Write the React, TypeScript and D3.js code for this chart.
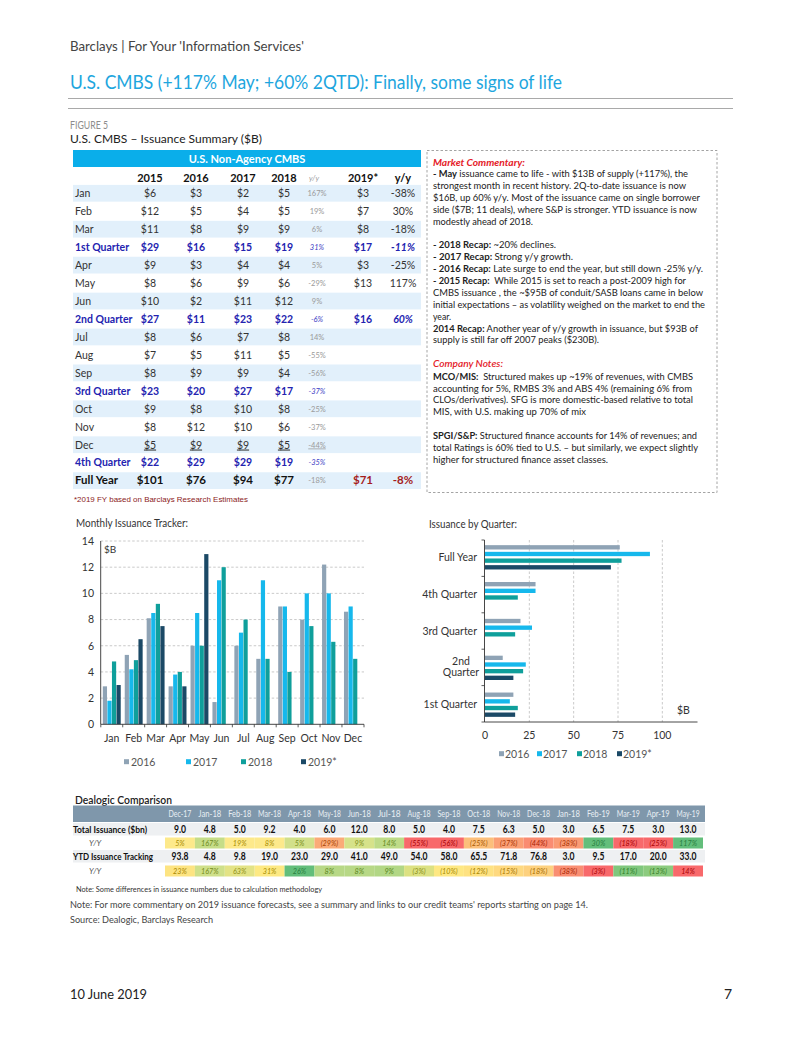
import React from "react";
import * as d3 from "d3";

const FONT = "Lato, 'Open Sans', 'DejaVu Sans', sans-serif";

// ---------------- Summary table data ----------------
const rowLabels = ["Jan", "Feb", "Mar", "1st Quarter", "Apr", "May", "Jun", "2nd Quarter", "Jul", "Aug", "Sep", "3rd Quarter", "Oct", "Nov", "Dec", "4th Quarter", "Full Year"];
const v2015 = [6, 12, 11, 29, 9, 8, 10, 27, 8, 7, 8, 23, 9, 8, 5, 22, 101];
const v2016 = [3, 5, 8, 16, 3, 6, 2, 11, 6, 5, 9, 20, 8, 12, 9, 29, 76];
const v2017 = [2, 4, 9, 15, 4, 9, 11, 23, 7, 11, 9, 27, 10, 10, 9, 29, 94];
const v2018 = [5, 5, 9, 19, 4, 6, 12, 22, 8, 5, 4, 17, 8, 6, 5, 19, 77];
const yoy2018 = ["167%", "19%", "6%", "31%", "5%", "-29%", "9%", "-6%", "14%", "-55%", "-56%", "-37%", "-25%", "-37%", "-44%", "-35%", "-18%"];
const v2019: (number | null)[] = [3, 7, 8, 17, 3, 13, null, 16, null, null, null, null, null, null, null, null, 71];
const yoy2019 = ["-38%", "30%", "-18%", "-11%", "-25%", "117%", "", "60%", "", "", "", "", "", "", "", "", "-8%"];
const tableHeaders = ["2015", "2016", "2017", "2018", "y/y", "2019*", "y/y"];

// ---------------- Monthly chart data ----------------
const months = ["Jan", "Feb", "Mar", "Apr", "May", "Jun", "Jul", "Aug", "Sep", "Oct", "Nov", "Dec"];
const seriesNames = ["2016", "2017", "2018", "2019*"];
const m2016 = [2.9, 5.3, 8.1, 2.9, 6.0, 1.7, 6.0, 5.0, 9.0, 8.0, 12.2, 8.6];
const m2017 = [1.8, 4.2, 8.5, 3.8, 8.5, 11.0, 7.0, 11.0, 9.0, 10.0, 10.0, 9.0];
const m2018 = [4.8, 4.9, 9.2, 4.0, 6.0, 12.0, 8.0, 5.0, 4.0, 7.5, 6.3, 5.0];
const m2019: (number | null)[] = [3.0, 6.5, 7.5, 2.9, 13.0, null, null, null, null, null, null, null];
const monthTicks = [0, 2, 4, 6, 8, 10, 12, 14];

// ---------------- Quarter chart data ----------------
const quarters = ["Full Year", "4th Quarter", "3rd Quarter", "2nd Quarter", "1st Quarter"];
const q2016 = [76, 28.5, 20, 10, 16];
const q2017 = [93, 28.5, 26.5, 23, 14];
const q2018 = [77, 18.5, 17, 21.5, 18.5];
const q2019: (number | null)[] = [71, null, null, 16, 17];
const quarterTicks = [0, 25, 50, 75, 100];

// ---------------- Dealogic data ----------------
const dealCols = ["Dec-17", "Jan-18", "Feb-18", "Mar-18", "Apr-18", "May-18", "Jun-18", "Jul-18", "Aug-18", "Sep-18", "Oct-18", "Nov-18", "Dec-18", "Jan-18", "Feb-19", "Mar-19", "Apr-19", "May-19"];
const totalIss = [9.0, 4.8, 5.0, 9.2, 4.0, 6.0, 12.0, 8.0, 5.0, 4.0, 7.5, 6.3, 5.0, 3.0, 6.5, 7.5, 3.0, 13.0];
const totalYoy = [5, 167, 19, 8, 5, -29, 9, 14, -55, -56, -25, -37, -44, -38, 30, -18, -25, 117];
const ytdIss = [93.8, 4.8, 9.8, 19.0, 23.0, 29.0, 41.0, 49.0, 54.0, 58.0, 65.5, 71.8, 76.8, 3.0, 9.5, 17.0, 20.0, 33.0];
const ytdYoy = [23, 167, 63, 31, 26, 8, 8, 9, -3, -10, -12, -15, -18, -38, -3, -11, -13, 14];

// heat-map fills (style)
const totalFill = ["#fde98b", "#c6dd88", "#fde98b", "#fde98b", "#d2e08a", "#fbab78", "#d6e28a", "#bedb87", "#f8696b", "#f8696b", "#fcbf7b", "#fb9f75", "#fa8c72", "#fa9a74", "#63be7b", "#f8696b", "#f8696b", "#63be7b"];
const ytdFill = ["#fde482", "#cfe08a", "#e3e386", "#fde983", "#63be7b", "#b7d886", "#b7d886", "#b2d785", "#dce182", "#fee883", "#fee282", "#fed980", "#fdd17f", "#f98e72", "#f8696b", "#7fc77d", "#8ccb7e", "#f8696b"];

// ---------------- Commentary text ----------------
type Line = { b?: string; t: string; kind?: "red" };
const commentary: Line[] = [
  { t: "Market Commentary:", kind: "red" },
  { b: "- May", t: " issuance came to life - with $13B of supply (+117%), the" },
  { t: "strongest month in recent history. 2Q-to-date issuance is now" },
  { t: "$16B, up 60% y/y. Most of the issuance came on single borrower" },
  { t: "side ($7B; 11 deals), where S&P is stronger. YTD issuance is now" },
  { t: "modestly ahead of 2018." },
  { b: "- 2018 Recap:", t: " ~20% declines." },
  { b: "- 2017 Recap:", t: " Strong y/y growth." },
  { b: "- 2016 Recap:", t: " Late surge to end the year, but still down -25% y/y." },
  { b: "- 2015 Recap:", t: "  While 2015 is set to reach a post-2009 high for" },
  { t: "CMBS issuance , the ~$95B of conduit/SASB loans came in below" },
  { t: "initial expectations – as volatility weighed on the market to end the" },
  { t: "year." },
  { b: "2014 Recap:", t: " Another year of y/y growth in issuance, but $93B of" },
  { t: "supply is still far off 2007 peaks ($230B)." },
  { t: "Company Notes:", kind: "red" },
  { b: "MCO/MIS:", t: "  Structured makes up ~19% of revenues, with CMBS" },
  { t: "accounting for 5%, RMBS 3% and ABS 4% (remaining 6% from" },
  { t: "CLOs/derivatives). SFG is more domestic-based relative to total" },
  { t: "MIS, with U.S. making up 70% of mix" },
  { b: "SPGI/S&P:", t: " Structured finance accounts for 14% of revenues; and" },
  { t: "total Ratings is 60% tied to U.S. – but similarly, we expect slightly" },
  { t: "higher for structured finance asset classes." },
];
// layout for commentary (line centre y, right edge x)
const commentaryY = [162, 173, 185, 197, 209, 221, 244, 256, 268, 280, 292, 304, 316, 328, 339, 363, 376, 388, 399, 411, 435, 447, 459];
const commentaryRight = [525, 688, 686, 700, 697, 533, 556, 573, 703, 686, 703, 705, 451, 698, 599, 503, 693, 692, 693, 586, 697, 698, 608];

// ---------------- styles ----------------
const COLORS = ["#8fa3b5", "#16b8ec", "#0f9f9b", "#1b4966"];
const BLUE_Q = "#2323b0";
const DARK_RED = "#a51c1c";

type TP = {
  x: number; y: number; size?: number; w?: number; anchor?: "start" | "middle" | "end";
  weight?: number | string; italic?: boolean; fill?: string; deco?: string; sx?: number; children?: React.ReactNode;
};
const Txt = ({ x, y, size = 10.5, w, anchor = "start", weight = 400, italic = false, fill = "#333", deco, sx, children }: TP) => {
  const el = (
    <text
      x={sx ? 0 : x}
      y={sx ? 0 : y}
      fontSize={size}
      textAnchor={anchor}
      fontWeight={weight}
      fontStyle={italic ? "italic" : "normal"}
      fill={fill}
      fontFamily={FONT}
      textLength={w}
      lengthAdjust={w ? "spacingAndGlyphs" : undefined}
      style={deco ? { textDecoration: deco } : undefined}
    >
      {children}
    </text>
  );
  if (sx) return <g transform={`translate(${x},${y}) scale(${sx},1)`}>{el}</g>;
  return el;
};

function SummaryTable() {
  const rowY = d3.scaleBand<number>().domain(d3.range(rowLabels.length)).range([184.3, 184.3 + 17.96 * rowLabels.length]);
  const colX = [150, 196, 243, 284, 317, 363, 403];
  const quarterRows = new Set([3, 7, 11, 15]);
  return (
    <g>
      <rect x={73} y={150} width={348} height={17} fill="#0aaeea" />
      <Txt x={247} y={162.5} size={11} anchor="middle" weight={700} fill="#fff">U.S. Non-Agency CMBS</Txt>
      {tableHeaders.map((h, i) =>
        i === 4 ? (
          <Txt key={i} x={colX[i] - 3} y={180.5} size={7.5} italic fill="#9a9a9a" anchor="middle">{h}</Txt>
        ) : (
          <Txt key={i} x={colX[i]} y={181.5} size={11} weight={700} fill="#111" anchor="middle">{h}</Txt>
        )
      )}
      {rowLabels.map((lab, i) => {
        const y0 = rowY(i)!;
        const cy = y0 + rowY.bandwidth() / 2;
        const by = cy + 3.8;
        const isQ = quarterRows.has(i);
        const isFY = i === rowLabels.length - 1;
        const deco = i === 14 ? "underline" : undefined;
        const mainFill = isFY ? "#111" : isQ ? BLUE_Q : "#333";
        const weight = isFY || isQ ? 700 : 400;
        const size = isFY ? 11.5 : 10.5;
        const vals = [v2015[i], v2016[i], v2017[i], v2018[i]];
        return (
          <g key={i}>
            {i % 2 === 0 && <rect x={73} y={y0 + 0.6} width={348} height={rowY.bandwidth() - 1.2} fill="#e2f0fb" />}
            <Txt x={75} y={by} size={size} weight={weight} fill={mainFill}>{lab}</Txt>
            {vals.map((v, j) => (
              <Txt key={j} x={colX[j]} y={by} size={size} weight={weight} fill={mainFill} anchor="middle" deco={deco}>{`$${v}`}</Txt>
            ))}
            <Txt x={colX[4]} y={cy + 2.8} size={7.5} italic={isQ} fill={isQ ? "#3b3bc4" : "#9a9a9a"} anchor="middle" deco={deco}>{yoy2018[i]}</Txt>
            {v2019[i] !== null && (
              <Txt x={colX[5]} y={by} size={size} weight={weight} fill={isFY ? DARK_RED : mainFill} anchor="middle">{`$${v2019[i]}`}</Txt>
            )}
            {yoy2019[i] !== "" && (
              <Txt x={colX[6]} y={by} size={size} weight={weight} italic={isQ} fill={isFY ? DARK_RED : mainFill} anchor="middle">{yoy2019[i]}</Txt>
            )}
          </g>
        );
      })}
      <text x={74} y={502} fontSize={7.8} fill="#8b1a1a" fontFamily="'Liberation Sans', Arial, sans-serif" textLength={174} lengthAdjust="spacingAndGlyphs">*2019 FY based on Barclays Research Estimates</text>
    </g>
  );
}

function Commentary() {
  const x0 = 433;
  return (
    <g>
      <rect x={427} y={150.5} width={290} height={342} fill="none" stroke="#9a9a9a" strokeWidth={0.9} strokeDasharray="2.5,2" />
      {commentary.map((ln, i) => {
        const y = commentaryY[i] + 3.6;
        const w = commentaryRight[i] - x0;
        if (ln.kind === "red") {
          return (
            <Txt key={i} x={x0} y={y} size={10.2} italic weight={i === 0 ? 700 : 600} fill="#e42028" w={w}>{ln.t}</Txt>
          );
        }
        return (
          <text key={i} x={x0} y={y} fontSize={10.2} fontFamily={FONT} fill="#222" textLength={w} lengthAdjust="spacingAndGlyphs" style={{ whiteSpace: "pre" }}>
            {ln.b && <tspan fontWeight={700}>{ln.b}</tspan>}
            <tspan>{ln.t}</tspan>
          </text>
        );
      })}
    </g>
  );
}

function Legend({ x, y, gap }: { x: number[]; y: number; gap: number }) {
  return (
    <g>
      {seriesNames.map((s, i) => (
        <g key={s}>
          <rect x={x[i]} y={y - 2.8} width={5} height={5} fill={COLORS[i]} />
          <Txt x={x[i] + gap} y={y + 3.8} size={10.5} fill="#555">{s}</Txt>
        </g>
      ))}
    </g>
  );
}

function MonthlyChart() {
  const left = 100.7, right = 364, top = 541, bottom = 724.3;
  const x = d3.scaleBand<string>().domain(months).range([left, right]).paddingInner(0.15).paddingOuter(0.08);
  const xs = d3.scaleBand<string>().domain(seriesNames).range([0, x.bandwidth()]).padding(0.08);
  const y = d3.scaleLinear().domain([0, 14]).range([bottom, top]);
  const series = [m2016, m2017, m2018, m2019];
  const step = x.step();
  const boundaries = months.map((m) => x(m)! - (step - x.bandwidth()) / 2).concat([right]);
  return (
    <g>
      <Txt x={76} y={526.5} size={10.5} fill="#333" w={112}>Monthly Issuance Tracker:</Txt>
      {monthTicks.filter((t) => t > 0).map((t) => (
        <line key={t} x1={left} x2={right} y1={y(t)} y2={y(t)} stroke="#bdbdbd" strokeWidth={0.8} strokeDasharray="2.5,2" />
      ))}
      {monthTicks.map((t) => (
        <Txt key={t} x={94} y={y(t) + 3.8} size={10.5} anchor="end" fill="#333">{t}</Txt>
      ))}
      <Txt x={104} y={553} size={10} fill="#333">$B</Txt>
      {series.map((vals, si) =>
        vals.map((v, mi) =>
          v === null ? null : (
            <rect
              key={`${si}-${mi}`}
              x={x(months[mi])! + xs(seriesNames[si])!}
              y={y(v)}
              width={xs.bandwidth()}
              height={bottom - y(v)}
              fill={COLORS[si]}
            />
          )
        )
      )}
      <line x1={left} x2={left} y1={top} y2={bottom} stroke="#333" strokeWidth={0.9} />
      <line x1={left} x2={right} y1={bottom} y2={bottom} stroke="#333" strokeWidth={0.9} />
      {boundaries.map((b, i) => (
        <line key={i} x1={b} x2={b} y1={bottom} y2={bottom + 3} stroke="#333" strokeWidth={0.8} />
      ))}
      {months.map((m) => (
        <Txt key={m} x={x(m)! + x.bandwidth() / 2} y={742} size={10.5} anchor="middle" fill="#333">{m}</Txt>
      ))}
      <Legend x={[124, 186, 241, 301]} y={762} gap={7} />
    </g>
  );
}

function QuarterChart() {
  const left = 484.5, right = 697.5, top = 540, bottom = 722;
  const yb = d3.scaleBand<string>().domain(quarters).range([top, bottom]).paddingInner(0.34).paddingOuter(0.14);
  const ys = d3.scaleBand<string>().domain(seriesNames).range([0, yb.bandwidth()]).paddingInner(0.35).paddingOuter(0);
  const x = d3.scaleLinear().domain([0, 120]).range([485, 697.8]);
  const series = [q2016, q2017, q2018, q2019];
  const bounds = d3.range(quarters.length + 1).map((k) => top + (k * (bottom - top)) / quarters.length);
  return (
    <g>
      <Txt x={429} y={527.5} size={10.5} fill="#333" w={88}>Issuance by Quarter:</Txt>
      {quarterTicks.filter((t) => t > 0).map((t) => (
        <line key={t} x1={x(t)} x2={x(t)} y1={top} y2={bottom} stroke="#bdbdbd" strokeWidth={0.8} strokeDasharray="2.5,2" />
      ))}
      {series.map((vals, si) =>
        vals.map((v, qi) =>
          v === null ? null : (
            <rect
              key={`${si}-${qi}`}
              x={x(0)}
              y={yb(quarters[qi])! + ys(seriesNames[si])!}
              width={x(v) - x(0)}
              height={ys.bandwidth()}
              fill={COLORS[si]}
            />
          )
        )
      )}
      <line x1={left} x2={left} y1={top} y2={bottom} stroke="#333" strokeWidth={0.9} />
      <line x1={left} x2={right} y1={bottom} y2={bottom} stroke="#333" strokeWidth={0.9} />
      {bounds.map((b, i) => (
        <line key={i} x1={left - 3} x2={left} y1={b} y2={b} stroke="#333" strokeWidth={0.8} />
      ))}
      {quarterTicks.map((t) => (
        <Txt key={t} x={x(t)} y={739} size={10.5} anchor="middle" fill="#333">{t}</Txt>
      ))}
      {quarters.map((q) => {
        const cy = yb(q)! + yb.bandwidth() / 2;
        if (q === "2nd Quarter") {
          return (
            <g key={q}>
              <Txt x={461} y={664.5} size={10.5} anchor="middle" fill="#333">2nd</Txt>
              <Txt x={461} y={676} size={10.5} anchor="middle" fill="#333">Quarter</Txt>
            </g>
          );
        }
        return <Txt key={q} x={477} y={cy + 3.8} size={10.5} anchor="end" fill="#333">{q}</Txt>;
      })}
      <Txt x={677} y={714} size={10.5} fill="#333">$B</Txt>
      <Legend x={[499, 537, 577, 617]} y={754} gap={6} />
    </g>
  );
}

function textColorFor(fill: string) {
  const c = d3.hsl(fill);
  c.l = 0.33;
  c.s = Math.min(1, c.s + 0.1);
  return c.formatHex();
}

function DealogicTable() {
  const x = d3.scaleBand<number>().domain(d3.range(dealCols.length)).range([165, 703]);
  const fmtYoy = (v: number) => (v < 0 ? `(${Math.abs(v)}%)` : `${v}%`);
  const valW = (s: string) => (s.length - 1) * 4.9 + 2.2;
  const rows = [
    { y0: 823, h: 12.5, label: "Total Issuance ($bn)", lw: 74, vals: totalIss },
    { y0: 850, h: 12.5, label: "YTD Issuance Tracking", lw: 80, vals: ytdIss },
  ];
  const yoyRows = [
    { y0: 837.5, h: 11, vals: totalYoy, fills: totalFill },
    { y0: 865.5, h: 11, vals: ytdYoy, fills: ytdFill },
  ];
  return (
    <g>
      <Txt x={75} y={804} size={11} weight={600} fill="#222" w={97}>Dealogic Comparison</Txt>
      <rect x={73} y={805.5} width={632} height={16.5} fill="#7f97ab" />
      {dealCols.map((c, i) => (
        <Txt key={i} x={x(i)! + x.bandwidth() / 2} y={817} size={9.5} anchor="middle" fill="#e8eef3" w={23}>{c}</Txt>
      ))}
      {rows.map((r, ri) => (
        <g key={ri}>
          <rect x={73} y={r.y0} width={632} height={r.h} fill="#eef0f2" />
          <Txt x={73} y={r.y0 + 9.8} size={9.4} weight={700} fill="#111" w={r.lw}>{r.label}</Txt>
          {r.vals.map((v, i) => {
            const s = v.toFixed(1);
            return (
              <Txt key={i} x={x(i)! + x.bandwidth() / 2} y={r.y0 + 9.8} size={10.5} weight={700} anchor="middle" fill="#111" w={valW(s)}>{s}</Txt>
            );
          })}
        </g>
      ))}
      {yoyRows.map((r, ri) => (
        <g key={ri}>
          <Txt x={89} y={r.y0 + 8.3} size={8} italic fill="#555">Y/Y</Txt>
          {r.vals.map((v, i) => (
            <g key={i}>
              <rect x={x(i)!} y={r.y0} width={x.bandwidth()} height={r.h} fill={r.fills[i]} />
              <Txt x={x(i)! + x.bandwidth() / 2} y={r.y0 + 8.3} size={8.5} italic anchor="middle" fill={textColorFor(r.fills[i])} sx={0.85}>{fmtYoy(v)}</Txt>
            </g>
          ))}
        </g>
      ))}
    </g>
  );
}

export default function App() {
  return (
    <svg
      width={802}
      height={1037}
      viewBox="0 0 802 1037"
      style={{ position: "absolute", left: 0, top: 0, display: "block", background: "#fff" }}
      fontFamily={FONT}
    >
      <rect x={0} y={0} width={802} height={1037} fill="#fff" />
      {/* page header */}
      <Txt x={70} y={50.5} size={12.5} fill="#444" w={234}>Barclays | For Your 'Information Services'</Txt>
      <Txt x={70} y={89} size={19.5} fill="#1ea6de" w={492}>U.S. CMBS (+117% May; +60% 2QTD): Finally, some signs of life</Txt>
      <line x1={68} x2={733} y1={98.5} y2={98.5} stroke="#a9a9a9" strokeWidth={1.2} />
      <line x1={68} x2={733} y1={108.5} y2={108.5} stroke="#a9a9a9" strokeWidth={1.2} />
      <Txt x={70} y={128.5} size={11} fill="#8c8c8c" w={38}>FIGURE 5</Txt>
      <Txt x={70} y={143} size={12} fill="#222" w={192}>U.S. CMBS – Issuance Summary ($B)</Txt>

      <SummaryTable />
      <Commentary />
      <MonthlyChart />
      <QuarterChart />
      <DealogicTable />

      {/* notes */}
      <Txt x={76} y={892} size={7.5} fill="#333" w={246}>Note: Some differences in issuance numbers due to calculation methodology</Txt>
      <Txt x={70} y={908} size={10} fill="#444" w={518}>Note: For more commentary on 2019 issuance forecasts, see a summary and links to our credit teams' reports starting on page 14.</Txt>
      <Txt x={70} y={923} size={10} fill="#444" w={143}>Source: Dealogic, Barclays Research</Txt>

      {/* footer */}
      <Txt x={70} y={999} size={14} fill="#222" w={77}>10 June 2019</Txt>
      <Txt x={724} y={999} size={14} fill="#222">7</Txt>
    </svg>
  );
}
